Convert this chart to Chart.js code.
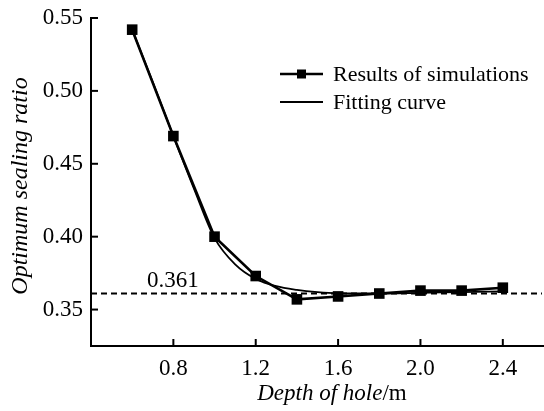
<!DOCTYPE html>
<html><head><meta charset="utf-8">
<script src="https://cdn.jsdelivr.net/npm/chart.js@4"></script>
<style>html,body{margin:0;padding:0;background:#fff;}</style>
</head><body>
<canvas id="c" width="544" height="411"></canvas>
<script>
const depths = [0.6, 0.8, 1.0, 1.2, 1.4, 1.6, 1.8, 2.0, 2.2, 2.4];
const simulated = [0.542, 0.469, 0.400, 0.373, 0.357, 0.359, 0.361, 0.363, 0.363, 0.365];
const fitDepths = [0.6, 0.7, 0.8, 0.9, 1.0, 1.1, 1.2, 1.3, 1.4, 1.5, 1.6, 1.8, 2.0, 2.2, 2.4];
const fitted = [0.542, 0.506, 0.469, 0.433, 0.399, 0.381, 0.371, 0.366, 0.3635, 0.362, 0.3612, 0.361, 0.3615, 0.362, 0.3625];
const refValue = [0.361];
const refRange = [0.4, 2.59];
const xTicks = [0.8, 1.2, 1.6, 2.0, 2.4];
const yTicks = [0.35, 0.40, 0.45, 0.50, 0.55];
const seriesLabels = ['Results of simulations', 'Fitting curve'];
const xTitle = ['Depth of hole', '/m'];
const yTitle = 'Optimum sealing ratio';

const SERIF = '"Liberation Serif", "Times New Roman", serif';

const deco = {
  id: 'deco',
  afterDraw(chart) {
    const {ctx, chartArea: a, scales: {x, y}} = chart;
    ctx.save();
    ctx.strokeStyle = '#000';
    ctx.fillStyle = '#000';
    ctx.lineWidth = 2;
    xTicks.forEach(v => {
      const px = x.getPixelForValue(v);
      ctx.beginPath(); ctx.moveTo(px, a.bottom); ctx.lineTo(px, a.bottom - 7); ctx.stroke();
    });
    yTicks.forEach(v => {
      const py = y.getPixelForValue(v);
      ctx.beginPath(); ctx.moveTo(a.left, py); ctx.lineTo(a.left + 7, py); ctx.stroke();
    });
    // reference label
    ctx.font = '23px ' + SERIF;
    ctx.textAlign = 'left';
    ctx.textBaseline = 'alphabetic';
    ctx.fillText(refValue[0].toFixed(3), a.left + 56, y.getPixelForValue(refValue[0]) - 7);

    // x title (italic + regular unit)
    ctx.font = 'italic 23px ' + SERIF;
    const w1 = ctx.measureText(xTitle[0]).width;
    ctx.font = '23px ' + SERIF;
    const w2 = ctx.measureText(xTitle[1]).width;
    const cx = 332, sx = cx - (w1 + w2) / 2;
    ctx.font = 'italic 23px ' + SERIF;
    ctx.fillText(xTitle[0], sx, 400);
    ctx.font = '23px ' + SERIF;
    ctx.fillText(xTitle[1], sx + w1, 400);

    // y title
    ctx.save();
    ctx.translate(27, 186);
    ctx.rotate(-Math.PI / 2);
    ctx.font = 'italic 24px ' + SERIF;
    ctx.textAlign = 'center';
    ctx.fillText(yTitle, 0, 0);
    ctx.restore();

    // legend
    const rows = [74, 102];
    chart.data.datasets.slice(0, 2).forEach((ds, i) => {
      const ly = rows[i];
      ctx.lineWidth = ds.borderWidth;
      ctx.beginPath(); ctx.moveTo(280, ly); ctx.lineTo(323, ly); ctx.stroke();
      if (ds.pointRadius > 0) {
        ctx.fillRect(297, ly - 4.5, 9, 9);
      }
      ctx.font = '22px ' + SERIF;
      ctx.textAlign = 'left';
      ctx.fillText(ds.label, 333, ly + 7);
    });
    ctx.restore();
  }
};

new Chart(document.getElementById('c'), {
  type: 'line',
  data: {
    datasets: [
      {
        label: seriesLabels[0],
        data: depths.map((d, i) => ({x: d, y: simulated[i]})),
        borderColor: '#000', backgroundColor: '#000',
        borderWidth: 2.6, tension: 0,
        pointStyle: 'rect', pointRadius: 7.5, pointHoverRadius: 7.5,
        pointBorderWidth: 0
      },
      {
        label: seriesLabels[1],
        data: fitDepths.map((d, i) => ({x: d, y: fitted[i]})),
        borderColor: '#000', borderWidth: 1.8,
        cubicInterpolationMode: 'monotone',
        pointRadius: 0
      },
      {
        label: 'ref',
        data: refRange.map(d => ({x: d, y: refValue[0]})),
        borderColor: '#000', borderWidth: 2,
        borderDash: [6, 4],
        pointRadius: 0
      }
    ]
  },
  options: {
    responsive: false,
    animation: false,
    devicePixelRatio: 1,
    layout: {autoPadding: false, padding: {top: 18, right: 0, left: 0, bottom: 0}},
    plugins: {legend: {display: false}, tooltip: {enabled: false}},
    scales: {
      x: {
        type: 'linear', min: 0.4, max: 2.6,
        afterBuildTicks: s => { s.ticks = xTicks.map(v => ({value: v})); },
        afterFit: s => { s.height = 65; s.paddingRight = 0; s.paddingLeft = 0; },
        grid: {display: false, drawTicks: false},
        border: {display: true, color: '#000', width: 2},
        ticks: {color: '#000', padding: 9, maxRotation: 0,
          font: {family: SERIF, size: 23},
          callback: v => v.toFixed(1)}
      },
      y: {
        min: 0.325, max: 0.55,
        afterBuildTicks: s => { s.ticks = yTicks.map(v => ({value: v})); },
        afterFit: s => { s.width = 91; s.paddingTop = 0; s.paddingBottom = 0; },
        grid: {display: false, drawTicks: false},
        border: {display: true, color: '#000', width: 2},
        ticks: {color: '#000', padding: 8,
          font: {family: SERIF, size: 23},
          callback: v => v.toFixed(2)}
      }
    }
  },
  plugins: [deco]
});
</script>
</body></html>
